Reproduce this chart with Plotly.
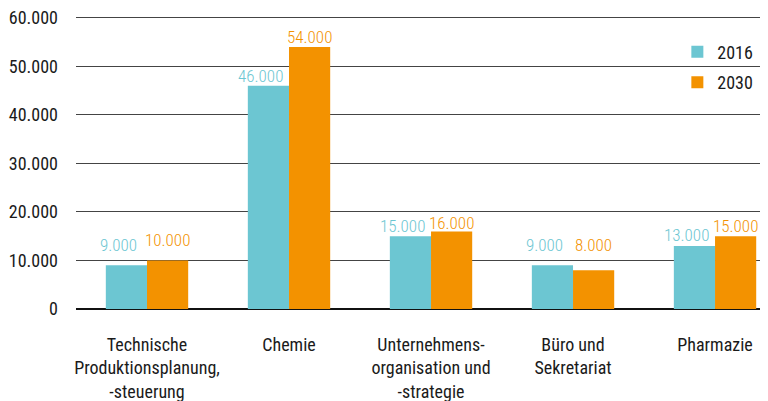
import plotly.graph_objects as go

categories = ["Technische<br>Produktionsplanung,<br>-steuerung", "Chemie",
              "Unternehmens-<br>organisation und<br>-strategie", "Büro und<br>Sekretariat", "Pharmazie"]
values_2016 = [9000, 46000, 15000, 9000, 13000]
values_2030 = [10000, 54000, 16000, 8000, 15000]
y_ticks = [0, 10000, 20000, 30000, 40000, 50000, 60000]

C16 = "#6cc6d2"
C30 = "#f39200"
FONT = "Roboto Condensed, Roboto, sans-serif"

# label placement styling (pixel lift above bar top, horizontal nudge)
LIFT_2016 = [8, -2, -2, 8, -1]
LIFT_2030 = [8, -2, -4, 13, -2]

def fmt(v):
    return f"{v:,}".replace(",", ".")

xs = list(range(len(categories)))
fig = go.Figure()
annotations = []
for name, vals, col, shift, lifts in [("2016", values_2016, C16, -28.5, LIFT_2016),
                                      ("2030", values_2030, C30, 20.5, LIFT_2030)]:
    fig.add_trace(go.Bar(name=name, x=xs, y=vals, marker_color=col,
                         marker_line_width=0, legendgroup=name))
    for xi, v, lift in zip(xs, vals, lifts):
        annotations.append(dict(x=xi, y=v, xref="x", yref="y", text=fmt(v), showarrow=False,
                                xshift=shift, yshift=lift, yanchor="bottom", xanchor="center",
                                font=dict(color=col, size=17, family=FONT, weight=300)))

fig.update_layout(
    width=760, height=393,
    margin=dict(l=68, r=0, t=8, b=92),
    paper_bgcolor="white", plot_bgcolor="white",
    barmode="group", bargap=0.42, bargroupgap=0,
    separators=",.",
    font=dict(family=FONT, size=17, color="#1a1a1a"),
    annotations=annotations,
    showlegend=True,
    legend=dict(x=0.869, y=0.94, xanchor="left", yanchor="top", bgcolor="rgba(0,0,0,0)",
                font=dict(size=18), itemwidth=30, traceorder="grouped", tracegroupgap=4),
    xaxis=dict(tickmode="array", tickvals=xs, ticktext=categories,
               range=[-0.5, 4.373], showgrid=False, showline=False, ticks="", automargin=False,
               tickfont=dict(size=18), ticklabelstandoff=23, ticklabeloverflow="allow"),
    yaxis=dict(range=[0, 60400], tickvals=y_ticks, tickformat=",d", showgrid=True, automargin=False,
               gridcolor="#444", gridwidth=1, zeroline=True, zerolinecolor="#111", zerolinewidth=1.5,
               showline=False, ticks="", tickfont=dict(size=18), ticklabelstandoff=17,
               ticklabeloverflow="allow"),
)
fig.write_html("out.html")
